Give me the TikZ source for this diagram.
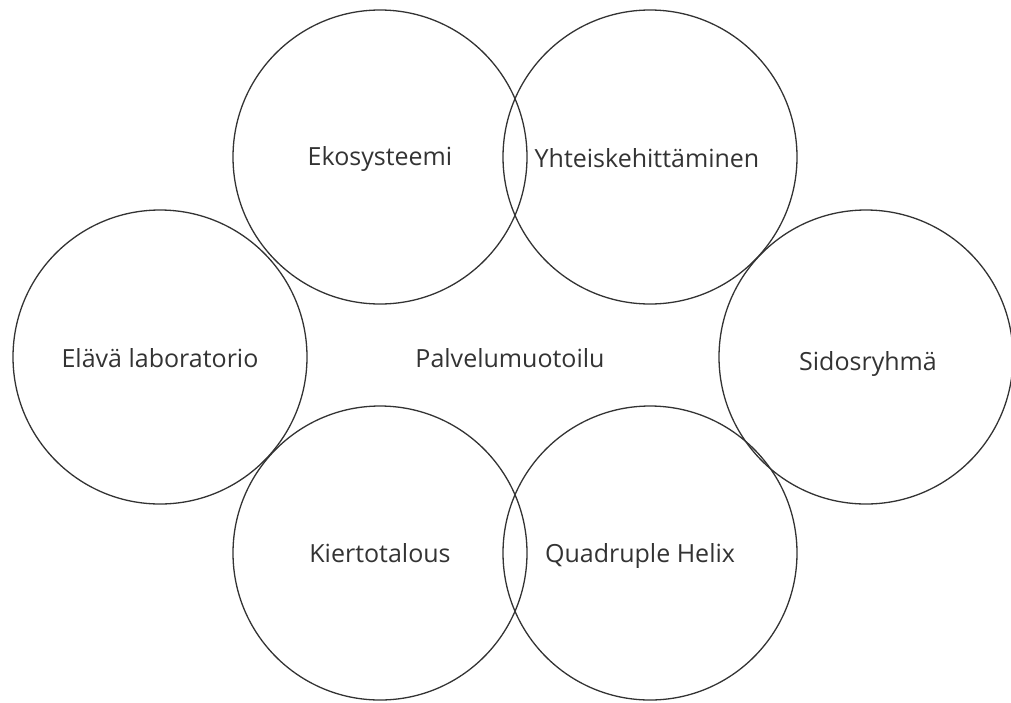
\documentclass[tikz,border=0pt]{standalone}
\usepackage{fontspec}
\setmainfont{Open Sans}
\definecolor{ink}{HTML}{333333}
\begin{document}
\begin{tikzpicture}[x=1pt,y=-1pt,
  bubble/.style={circle,draw=ink,line width=1.3pt,minimum size=294pt,inner sep=0pt},
  lbl/.style={text=ink,anchor=base,inner sep=0pt,font=\fontsize{25}{28}\selectfont}]
\useasboundingbox (0,0) rectangle (1011,702);
\node[bubble] (eko) at (380,157) {};
\node[bubble] (yht) at (650,157) {};
\node[bubble] (ela) at (160,357) {};
\node[bubble] (sid) at (866,357) {};
\node[bubble] (kie) at (380,553) {};
\node[bubble] (qua) at (650,553) {};
\node[lbl] (teko) at (380,165) {Ekosysteemi};
\node[lbl] (tyht) at (647,167) {Yhteiskehittäminen};
\node[lbl] (tela) at (160,367) {Elävä laboratorio};
\node[lbl] (tsid) at (868,370) {Sidosryhmä};
\node[lbl] (tkie) at (380,562) {Kiertotalous};
\node[lbl] (tqua) at (640,562) {Quadruple Helix};
\node[lbl] (tpal) at (510,367) {Palvelumuotoilu};
\end{tikzpicture}
\end{document}
